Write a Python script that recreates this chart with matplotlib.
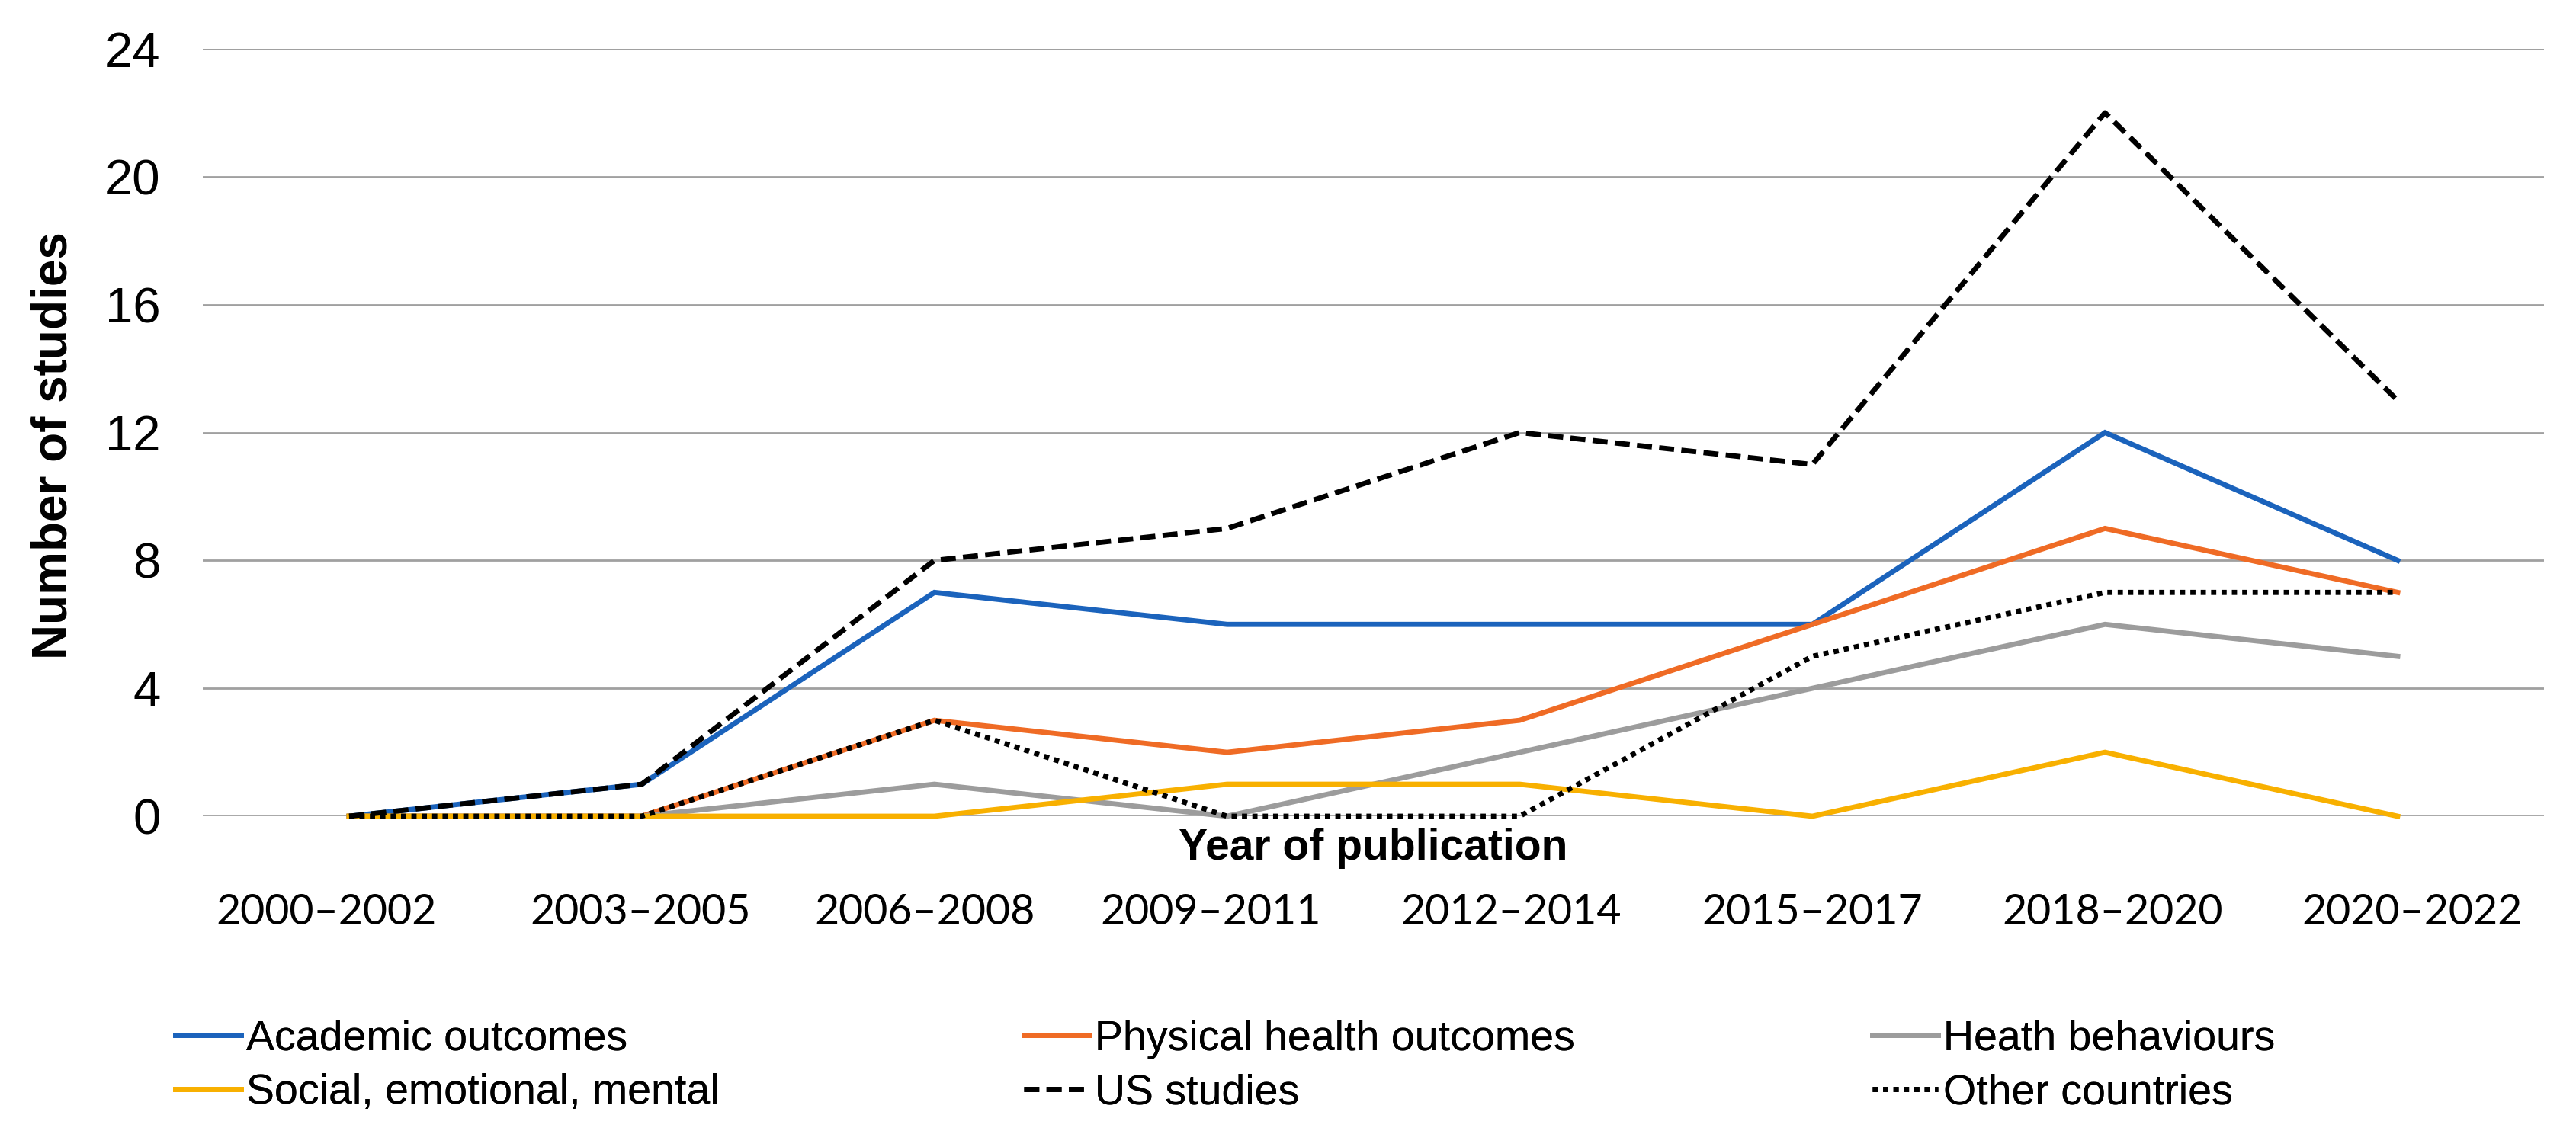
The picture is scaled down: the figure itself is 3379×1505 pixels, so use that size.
import matplotlib
matplotlib.use("Agg")
import matplotlib.pyplot as plt

categories = ["2000\u20132002", "2003\u20132005", "2006\u20132008", "2009\u20132011",
              "2012\u20132014", "2015\u20132017", "2018\u20132020", "2020\u20132022"]
academic = [0, 1, 7, 6, 6, 6, 12, 8]
physical = [0, 0, 3, 2, 3, 6, 9, 7]
behaviours = [0, 0, 1, 0, 2, 4, 6, 5]
social = [0, 0, 0, 1, 1, 0, 2, 0]
us_studies = [0, 1, 8, 9, 12, 11, 22, 13]
other_countries = [0, 0, 3, 0, 0, 5, 7, 7]
y_ticks = [0, 4, 8, 12, 16, 20, 24]

# layout: where the category labels sit (slightly offset from the points, as in the source)
xtick_pos = [-0.078, 0.996, 1.968, 2.943, 3.970, 5.0, 6.027, 7.049]

W, H = 3380, 1505
fig = plt.figure(figsize=(W / 100, H / 100), dpi=100)
ax = fig.add_axes([266 / W, 1 - 1071 / H, (3337 - 266) / W, (1071 - 64) / H])

x = list(range(len(categories)))
LW = 4.9
series = [
    ("Academic outcomes", academic, "#1B63BC", "-"),
    ("Physical health outcomes", physical, "#EF6B25", "-"),
    ("Heath behaviours", behaviours, "#9C9C9C", "-"),
    ("Social, emotional, mental", social, "#F8B000", "-"),
    ("US studies", us_studies, "#000000", (0, (2.9, 1.4))),
    ("Other countries", other_countries, "#000000", (0, (1, 1))),
]
handles = {}
for i, (name, vals, col, ls) in enumerate(series):
    ln, = ax.plot(x, vals, color=col, lw=LW, linestyle=ls, clip_on=False,
                  solid_joinstyle="miter", dash_capstyle="butt", zorder=3 + i)
    handles[name] = ln

ax.set_xlim(-0.5, 7.5)
ax.set_ylim(0, 24)
ax.set_yticks(y_ticks)
ax.set_yticklabels([str(v) for v in y_ticks], family="Liberation Sans", fontsize=47)
ax.set_xticks(xtick_pos)
ax.set_xticklabels(categories, family="Lato", fontsize=40)
for lbl in ax.get_xticklabels():
    lbl.set_verticalalignment("center")
ax.tick_params(axis="both", length=0)
ax.tick_params(axis="y", pad=40)
ax.tick_params(axis="x", pad=91)
ax.grid(axis="y", color="#A0A0A0", lw=2)
ax.grid(axis="x", visible=False)
ax.set_axisbelow(True)
for s in ax.spines.values():
    s.set_visible(False)

ax.annotate("Year of publication", xy=(0.5, 0), xycoords="axes fraction",
            xytext=(0, -30), textcoords="offset points", ha="center", va="center",
            family="Liberation Sans", fontweight="bold", fontsize=41)

fig.text(71 / W, 1 - 585 / H, "Number of studies", rotation=90, ha="center", va="center",
         family="Liberation Sans", fontweight="bold", fontsize=46)

cols = [
    (230, ["Academic outcomes", "Social, emotional, mental"]),
    (1343, ["Physical health outcomes", "US studies"]),
    (2456, ["Heath behaviours", "Other countries"]),
]
for xpx, names in cols:
    leg = fig.legend([handles[n] for n in names], names, loc="center left",
                     bbox_to_anchor=(xpx / W, 1 - 1399 / H), frameon=False,
                     prop={"family": "Liberation Sans", "size": 40},
                     handlelength=1.54, handletextpad=0.13, labelspacing=0.33,
                     borderpad=0, borderaxespad=0)
    fig.add_artist(leg)

fig.savefig("out.png", dpi=100, facecolor="white")
